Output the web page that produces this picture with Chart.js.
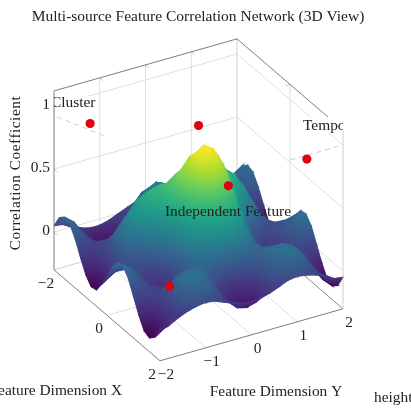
<!DOCTYPE html>
<html>
<head>
<meta charset="utf-8">
<style>
  html, body { margin: 0; padding: 0; background: #fff; overflow: hidden; }
  canvas { display: block; }
</style>
<script src="https://cdn.jsdelivr.net/npm/chart.js@4"></script>
</head>
<body>
<canvas id="chartRede" width="411" height="408"></canvas>
<script>
// Data
const titleText = 'Multi-source Feature Correlation Network (3D View)';
const xAxisTitle = 'Feature Dimension X';
const yAxisTitle = 'Feature Dimension Y';
const zAxisTitle = 'Correlation Coefficient';
const colorbarTitle = 'height';

const xTicks = [-2, 0, 2];
const yTicks = [-2, -1, 0, 1, 2];
const zTicks = [0, 0.5, 1];
const zTickLabels = ['0', '0.5', '1'];
const zRange = [-0.3, 1.12];

// surface samples, x = -2 .. 2 (rows), y = -2 .. 2 (columns), step 0.2
const gridX = [-2, -1.8, -1.6, -1.4, -1.2, -1, -0.8, -0.6, -0.4, -0.2, 0, 0.2, 0.4, 0.6, 0.8, 1, 1.2, 1.4, 1.6, 1.8, 2];
const gridY = [-2, -1.8, -1.6, -1.4, -1.2, -1, -0.8, -0.6, -0.4, -0.2, 0, 0.2, 0.4, 0.6, 0.8, 1, 1.2, 1.4, 1.6, 1.8, 2];
const surfaceZ = [
  [.05,.04,.01,-.03,-.05,-.05,-.03,0,.03,.06,.07,.06,.03,0,-.03,-.05,-.05,-.03,.01,.04,.05],
  [.15,.10,.02,-.07,-.13,-.14,-.10,-.01,.08,.16,.19,.16,.08,-.01,-.10,-.14,-.13,-.07,.02,.10,.15],
  [.19,.13,.02,-.09,-.16,-.17,-.11,0,.13,.22,.26,.22,.13,0,-.11,-.17,-.16,-.09,.02,.13,.19],
  [.17,.11,.02,-.07,-.13,-.13,-.07,.04,.16,.25,.29,.25,.16,.04,-.07,-.13,-.13,-.07,.02,.11,.17],
  [.09,.06,.02,-.02,-.04,-.02,.03,.11,.19,.26,.28,.26,.19,.11,.03,-.02,-.04,-.02,.02,.06,.09],
  [-.02,-.01,.02,.06,.10,.14,.18,.21,.24,.26,.27,.26,.24,.21,.18,.14,.10,.06,.02,-.01,-.02],
  [-.12,-.07,.02,.13,.22,.29,.32,.33,.31,.30,.29,.30,.31,.33,.32,.29,.22,.13,.02,-.07,-.12],
  [-.18,-.10,.03,.18,.31,.40,.44,.43,.40,.38,.36,.38,.40,.43,.44,.40,.31,.18,.03,-.10,-.18],
  [-.17,-.09,.04,.19,.33,.44,.50,.52,.51,.50,.50,.50,.51,.52,.50,.44,.33,.19,.04,-.09,-.17],
  [-.09,-.04,.05,.16,.28,.40,.49,.56,.61,.65,.66,.65,.61,.56,.49,.40,.28,.16,.05,-.04,-.09],
  [.01,.03,.06,.11,.19,.29,.42,.56,.68,.77,.80,.77,.68,.56,.42,.29,.19,.11,.06,.03,.01],
  [.12,.10,.07,.05,.08,.17,.32,.51,.70,.83,.88,.83,.70,.51,.32,.17,.08,.05,.07,.10,.12],
  [.19,.14,.07,.01,-.01,.07,.22,.43,.65,.81,.87,.81,.65,.43,.22,.07,-.01,.01,.07,.14,.19],
  [.20,.15,.06,-.02,-.04,.01,.15,.35,.55,.70,.75,.70,.55,.35,.15,.01,-.04,-.02,.06,.15,.20],
  [.14,.10,.04,-.01,-.02,.02,.12,.26,.41,.52,.56,.52,.41,.26,.12,.02,-.02,-.01,.04,.10,.14],
  [.03,.03,.03,.03,.05,.08,.13,.20,.26,.31,.32,.31,.26,.20,.13,.08,.05,.03,.03,.03,.03],
  [-.08,-.05,.01,.07,.13,.16,.17,.15,.13,.11,.10,.11,.13,.15,.17,.16,.13,.07,.01,-.05,-.08],
  [-.17,-.11,-.01,.10,.18,.21,.19,.12,.03,-.04,-.06,-.04,.03,.12,.19,.21,.18,.10,-.01,-.11,-.17],
  [-.19,-.12,-.01,.11,.19,.22,.18,.09,-.02,-.10,-.14,-.10,-.02,.09,.18,.22,.19,.11,-.01,-.12,-.19],
  [-.15,-.10,-.01,.08,.15,.16,.13,.06,-.03,-.10,-.12,-.10,-.03,.06,.13,.16,.15,.08,-.01,-.10,-.15],
  [-.05,-.04,0,.03,.05,.06,.05,.02,-.01,-.03,-.04,-.03,-.01,.02,.05,.06,.05,.03,0,-.04,-.05]
];

// network nodes and dashed links
const nodeX = [-1.5, 0, 1.5, -0.6, 1.5];
const nodeY = [-1.5, 0, 1.5, 1, -1.5];
const nodeZ = [0.9, 1, 0.85, 0.31, 0.15];
const linkCluster = [[-2, -1.93, 0.905], [-1, -1.42, 0.875]];
const linkTemporal = [[2, 0.85, 1], [2, 2, 1]];
const clusterLabel = 'Cluster';
const temporalLabel = 'Temporal';
const independentLabel = 'Independent Feature';

const viridis = ['#440154', '#482878', '#3e4a89', '#31688e', '#26828e', '#1f9e89', '#35b779', '#6ece58', '#b5de2b', '#fde725'];
const colorMin = -0.19;
const colorMax = 0.88;

// Parallel projection of the pgfplots view into picture coordinates
function project(x, y, z) {
    return { x: 198.5 + 26.5 * x + 45.75 * y, y: 251.5 + 22.75 * x - 13 * y - 126 * z };
}

function hexToRgb(hex) {
    return [1, 3, 5].map(i => parseInt(hex.slice(i, i + 2), 16));
}

function colorFor(z) {
    const t = Math.min(1, Math.max(0, (z - colorMin) / (colorMax - colorMin))) * (viridis.length - 1);
    const i = Math.min(viridis.length - 2, Math.floor(t));
    const a = hexToRgb(viridis[i]);
    const b = hexToRgb(viridis[i + 1]);
    const c = a.map((v, k) => Math.round(v + (b[k] - v) * (t - i)));
    return `rgb(${c[0]},${c[1]},${c[2]})`;
}

// Gradient along the direction in which z grows inside one triangle
function triGradient(chart, pts, zs) {
    const mean = (zs[0] + zs[1] + zs[2]) / 3;
    const sx = chart.scales.x, sy = chart.scales.y;
    if (!sx || !sy) return colorFor(mean);
    const p = pts.map(q => ({ x: sx.getPixelForValue(q.x), y: sy.getPixelForValue(q.y) }));
    if (p.some(q => !isFinite(q.x) || !isFinite(q.y))) return colorFor(mean); // scales not laid out yet
    const ax = p[1].x - p[0].x, ay = p[1].y - p[0].y;
    const bx = p[2].x - p[0].x, by = p[2].y - p[0].y;
    const da = zs[1] - zs[0], db = zs[2] - zs[0];
    const det = ax * by - ay * bx;
    if (Math.abs(det) < 0.5) return colorFor(mean);
    const gx = (da * by - db * ay) / det, gy = (db * ax - da * bx) / det;
    const len2 = gx * gx + gy * gy;
    if (len2 < 1e-9) return colorFor(mean);
    const lo = Math.min(...zs), hi = Math.max(...zs);
    const grad = chart.ctx.createLinearGradient(
        p[0].x + gx * (lo - zs[0]) / len2, p[0].y + gy * (lo - zs[0]) / len2,
        p[0].x + gx * (hi - zs[0]) / len2, p[0].y + gy * (hi - zs[0]) / len2);
    for (let k = 0; k <= 4; k++) grad.addColorStop(k / 4, colorFor(lo + (hi - lo) * k / 4));
    return grad;
}

// Datasets are pushed back to front
const datasets = [];

function addLine(a, b, color, width, dash) {
    datasets.push({
        data: [project(...a), project(...b)],
        showLine: true, fill: false, pointRadius: 0, borderColor: color,
        borderWidth: width, borderDash: dash || [], clip: false
    });
}

function addTriangle(idx) {
    const pts = idx.map(([a, b]) => project(gridX[a], gridY[b], surfaceZ[a][b]));
    const zs = idx.map(([a, b]) => surfaceZ[a][b]);
    const paint = c => triGradient(c.chart, pts, zs);
    datasets.push({
        data: pts.concat([pts[0]]),
        showLine: true, fill: 'shape', pointRadius: 0, tension: 0,
        backgroundColor: paint, borderColor: paint, borderWidth: 1.1, clip: false
    });
}

const zLow = zRange[0], zTop = zRange[1];
const gridColor = '#dedede', boxColor = '#6e6e6e', stubColor = '#bdbdbd';

// Back walls and floor
xTicks.slice(1, 2).forEach(x => {
    addLine([x, 2, zLow], [x, 2, zTop], gridColor, 1);
    addLine([x, -2, zLow], [x, 2, zLow], gridColor, 1);
    addLine([x, 2, zTop], [x, 1.9, zTop], stubColor, 0.8);
});
yTicks.slice(1, 4).forEach(y => {
    addLine([-2, y, zLow], [-2, y, zTop], gridColor, 1);
    addLine([-2, y, zLow], [2, y, zLow], gridColor, 1);
    addLine([-2, y, zTop], [-1.87, y, zTop], stubColor, 0.8);
});
zTicks.forEach(z => {
    addLine([-2, -2, z], [-2, 2, z], gridColor, 1);
    addLine([-2, 2, z], [2, 2, z], gridColor, 1);
    addLine([-2, -2, z], [-1.87, -2, z], stubColor, 0.8);
});
addLine([-2, 2, zLow], [-2, 2, zTop], '#cfcfcf', 1);
addLine([-2, -2, zLow], [-2, 2, zLow], '#cfcfcf', 1);
addLine([-2, 2, zLow], [2, 2, zLow], '#6e6e6e', 0.8);

// Dashed links behind the surface
addLine(linkCluster[0], linkCluster[1], '#c6c6fb', 1, [5, 4]);
addLine(linkTemporal[0], linkTemporal[1], '#c6c6fb', 1, [5, 4]);

// Surface cells, far corner first, each cut along its flatter diagonal
for (let i = 0; i < gridX.length - 1; i++) {
    for (let j = gridY.length - 2; j >= 0; j--) {
        const z = surfaceZ;
        const mainDiag = Math.abs(z[i][j] - z[i + 1][j + 1]) <= Math.abs(z[i + 1][j] - z[i][j + 1]);
        if (mainDiag) {
            addTriangle([[i, j], [i, j + 1], [i + 1, j + 1]]);
            addTriangle([[i, j], [i + 1, j], [i + 1, j + 1]]);
        } else {
            addTriangle([[i, j], [i, j + 1], [i + 1, j]]);
            addTriangle([[i + 1, j], [i, j + 1], [i + 1, j + 1]]);
        }
    }
}

// Outer box edges
addLine([-2, -2, zLow], [-2, -2, zTop], boxColor, 0.9);
addLine([-2, -2, zLow], [2, -2, zLow], boxColor, 0.9);
addLine([2, -2, zLow], [2, 2, zLow], boxColor, 0.9);
addLine([-2, -2, zTop], [-2, 2, zTop], boxColor, 0.9);
addLine([-2, 2, zTop], [2, 2, zTop], boxColor, 0.9);
addLine([2, 2, zLow], [2, 2, zTop], '#cfcfcf', 1);

// Red nodes on top
datasets.push({
    data: nodeX.map((x, i) => project(x, nodeY[i], nodeZ[i])),
    showLine: false, pointRadius: 4.6, pointHoverRadius: 4.6, pointBorderWidth: 0,
    backgroundColor: '#e0000f', clip: false
});

// lower order is painted later
datasets.forEach((d, i) => { d.order = datasets.length - i; });

const textFont = '15.4px "Liberation Serif"';

function put(ctx, text, x, y, align) {
    ctx.textAlign = align || 'center';
    ctx.fillText(text, x, y);
}

const axisText = {
    id: 'axisText',
    afterDatasetsDraw(chart) {
        const ctx = chart.ctx, sx = chart.scales.x, sy = chart.scales.y;
        const at = (x, y, z) => {
            const p = project(x, y, z);
            return [sx.getPixelForValue(p.x), sy.getPixelForValue(p.y)];
        };
        ctx.save();
        ctx.font = textFont;
        ctx.fillStyle = '#222';
        ctx.textBaseline = 'middle';

        // Clipped node labels with a white box
        const lx = at(-2, -2, zTop)[0];
        ctx.save();
        ctx.beginPath();
        ctx.rect(lx, 96, 43, 15);
        ctx.clip();
        ctx.fillStyle = '#fff';
        ctx.fillRect(lx + 1, 96, 43, 15);
        ctx.fillStyle = '#222';
        put(ctx, clusterLabel, lx - 3, 103, 'left');
        ctx.restore();

        ctx.save();
        ctx.beginPath();
        ctx.rect(303, 117, 40, 16);
        ctx.clip();
        ctx.fillStyle = '#fff';
        ctx.fillRect(303, 117, 40, 16);
        ctx.fillStyle = '#222';
        put(ctx, temporalLabel, 303, 125.5, 'left');
        ctx.restore();

        put(ctx, independentLabel, 228, 212);

        // Tick labels
        xTicks.forEach(x => {
            const [px, py] = at(x, -2, zLow);
            put(ctx, String(x).replace('-', '\u2212'), px - 8, py + 14);
        });
        yTicks.forEach(y => {
            const [px, py] = at(2, y, zLow);
            put(ctx, String(y).replace('-', '\u2212'), px + 6, py + 14.5);
        });
        zTicks.forEach((z, i) => {
            const [px, py] = at(-2, -2, z);
            put(ctx, zTickLabels[i], px - 4, py - 1, 'right');
        });

        // Axis titles
        put(ctx, xAxisTitle, 122, 391, 'right');
        put(ctx, yAxisTitle, 276, 392);
        put(ctx, colorbarTitle, 374, 398, 'left');
        ctx.translate(16, 173);
        ctx.rotate(-Math.PI / 2);
        ctx.letterSpacing = '0.5px';
        put(ctx, zAxisTitle, 0, 0);
        ctx.restore();
    }
};

const chartRede = new Chart(document.getElementById('chartRede').getContext('2d'), {
    type: 'scatter',
    data: { datasets: datasets },
    options: {
        responsive: false,
        animation: false,
        events: [],
        layout: { padding: { right: 15 }, autoPadding: false },
        elements: { line: { capBezierPoints: false } },
        plugins: {
            legend: { display: false },
            tooltip: { enabled: false },
            title: {
                display: true,
                fullSize: false,
                text: titleText,
                color: '#222',
                font: { family: 'Liberation Serif', size: 15.5, weight: 'normal', lineHeight: 1 },
                padding: { top: 9.5, bottom: 9 }
            }
        },
        scales: {
            x: { type: 'linear', min: 0, max: 396, display: false },
            y: { type: 'linear', min: 34, max: 408, reverse: true, display: false }
        }
    },
    plugins: [axisText]
});
</script>
</body>
</html>
